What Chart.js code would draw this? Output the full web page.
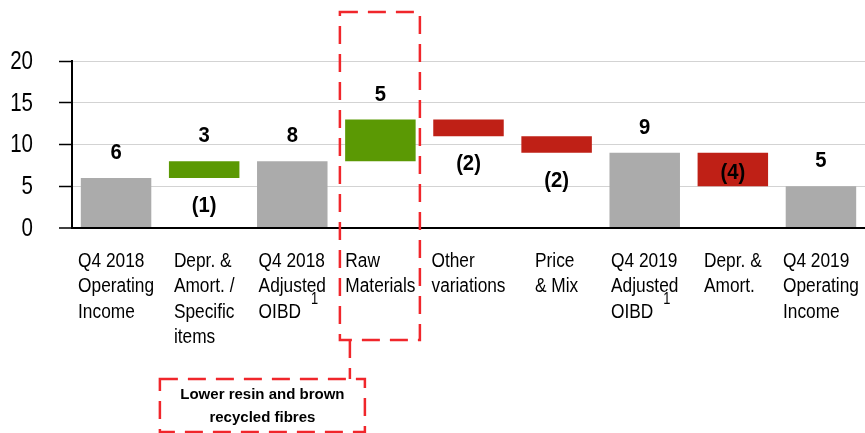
<!DOCTYPE html>
<html>
<head>
<meta charset="utf-8">
<script src="https://cdn.jsdelivr.net/npm/chart.js@4.4.1/dist/chart.umd.min.js"></script>
<style>
  html, body { margin: 0; padding: 0; background: #fff; }
  #wrap { width: 865px; height: 433px; position: relative; }
</style>
</head>
<body>
<div id="wrap"><canvas id="myChart"></canvas></div>
<script>
"use strict";

// waterfall data
const categories = [
  ['Q4 2018', 'Operating', 'Income'],
  ['Depr. &', 'Amort. /', 'Specific', 'items'],
  ['Q4 2018', 'Adjusted', 'OIBD'],
  ['Raw', 'Materials'],
  ['Other', 'variations'],
  ['Price', '& Mix'],
  ['Q4 2019', 'Adjusted', 'OIBD'],
  ['Depr. &', 'Amort.'],
  ['Q4 2019', 'Operating', 'Income']
];
const barFrom = [0, 6, 0, 8, 11, 9, 0, 5, 0];
const barTo = [6, 8, 8, 13, 13, 11, 9, 9, 5];
const barKind = ['total', 'up', 'total', 'up', 'down', 'down', 'total', 'down', 'total'];
const labelsAbove = ['6', '3', '8', '5', '', '', '9', '', '5'];
const labelsBelow = ['', '(1)', '', '', '(2)', '(2)', '', '', ''];
const labelsInside = ['', '', '', '', '', '', '', '(4)', ''];
const footnoteAt = [false, false, true, false, false, false, true, false, false];
const yTicks = [0, 5, 10, 15, 20];
const calloutText = ['Lower resin and brown', 'recycled fibres'];
const highlightIndex = 3;

const kindColors = { total: '#ABABAB', up: '#5B9904', down: '#BF2016' };
const sans = "'Liberation Sans', Arial, sans-serif";
const dashRed = '#F0262B';

// the slide uses a condensed face; squeeze the regular one horizontally
function narrowText(ctx, text, x, y, squeeze) {
  ctx.save();
  ctx.translate(x, y);
  ctx.scale(squeeze, 1);
  ctx.fillText(text, 0, 0);
  ctx.restore();
}

const waterfallText = {
  id: 'waterfallText',
  afterDatasetsDraw(chart) {
    const {ctx, scales: {x, y}} = chart;
    const meta = chart.getDatasetMeta(0);
    ctx.save();
    ctx.fillStyle = '#000';

    // y tick labels
    ctx.font = '25px ' + sans;
    ctx.textAlign = 'right';
    ctx.textBaseline = 'middle';
    yTicks.forEach(v => narrowText(ctx, String(v), 33, y.getPixelForValue(v) + 1, 0.82));

    // value labels
    ctx.font = 'bold 22px ' + sans;
    ctx.textAlign = 'center';
    meta.data.forEach((bar, i) => {
      const top = y.getPixelForValue(barTo[i]);
      const bottom = y.getPixelForValue(barFrom[i]);
      if (labelsAbove[i]) narrowText(ctx, labelsAbove[i], bar.x, top - 25, 0.92);
      if (labelsBelow[i]) narrowText(ctx, labelsBelow[i], bar.x, bottom + 28, 0.92);
      if (labelsInside[i]) narrowText(ctx, labelsInside[i], bar.x, (top + bottom) / 2 + 3, 0.92);
    });

    // category labels: block centred, lines left aligned
    const sq = 0.865;
    ctx.textAlign = 'left';
    ctx.textBaseline = 'alphabetic';
    categories.forEach((lines, i) => {
      ctx.font = '20px ' + sans;
      const cx = x.getPixelForTick(i);
      const w = Math.max(...lines.map(l => ctx.measureText(l).width)) * sq;
      const left = cx - w / 2;
      const base = x.top + 39;
      lines.forEach((line, j) => narrowText(ctx, line, left, base + j * 25.3, sq));
      if (footnoteAt[i]) {
        const last = lines.length - 1;
        const endX = left + ctx.measureText(lines[last]).width * sq;
        ctx.font = '16px ' + sans;
        narrowText(ctx, '1', endX + 10, base + last * 25.3 - 14, 0.8);
      }
    });

    // dashed highlight around the raw materials column
    const hx = x.getPixelForTick(highlightIndex);
    ctx.strokeStyle = dashRed;
    ctx.lineWidth = 2.5;
    ctx.setLineDash([18, 10]);
    ctx.strokeRect(hx - 40.5, 12, 80, 328);
    ctx.beginPath();
    ctx.moveTo(hx - 30.5, 340);
    ctx.lineTo(hx - 30.5, 379);
    ctx.stroke();
    ctx.strokeRect(hx - 220.5, 379, 205, 53);

    ctx.setLineDash([]);
    ctx.font = 'bold 15px ' + sans;
    ctx.textAlign = 'center';
    ctx.textBaseline = 'middle';
    calloutText.forEach((t, j) => ctx.fillText(t, hx - 118, 395 + j * 23));
    ctx.restore();
  }
};

const ctx = document.getElementById('myChart').getContext('2d');
const chart = new Chart(ctx, {
  type: 'bar',
  data: {
    labels: categories.map(c => c.join(' ')),
    datasets: [{
      data: barFrom.map((v, i) => [v, barTo[i]]),
      backgroundColor: barKind.map(k => kindColors[k]),
      borderWidth: 0,
      barPercentage: 0.8,
      categoryPercentage: 1
    }]
  },
  options: {
    responsive: true,
    maintainAspectRatio: false,
    animation: false,
    layout: { padding: { top: 61, right: 0, bottom: 0, left: 0 } },
    plugins: { legend: { display: false }, tooltip: { enabled: false } },
    scales: {
      x: {
        grid: { display: false },
        border: { color: '#000', width: 2 },
        ticks: { display: false },
        afterFit(s) { s.height = 205; }
      },
      y: {
        min: 0,
        max: 20,
        afterBuildTicks(s) { s.ticks = yTicks.map(v => ({ value: v })); },
        grid: {
          color: c => (c.tick && c.tick.value === 0) ? '#000' : '#D3D3D3',
          lineWidth: c => (c.tick && c.tick.value === 0) ? 2 : 1,
          tickColor: '#000',
          tickLength: 13,
          tickWidth: 1.5
        },
        border: { color: '#000', width: 2 },
        ticks: { display: false },
        afterFit(s) { s.width = 72; }
      }
    }
  },
  plugins: [waterfallText]
});
</script>
</body>
</html>
